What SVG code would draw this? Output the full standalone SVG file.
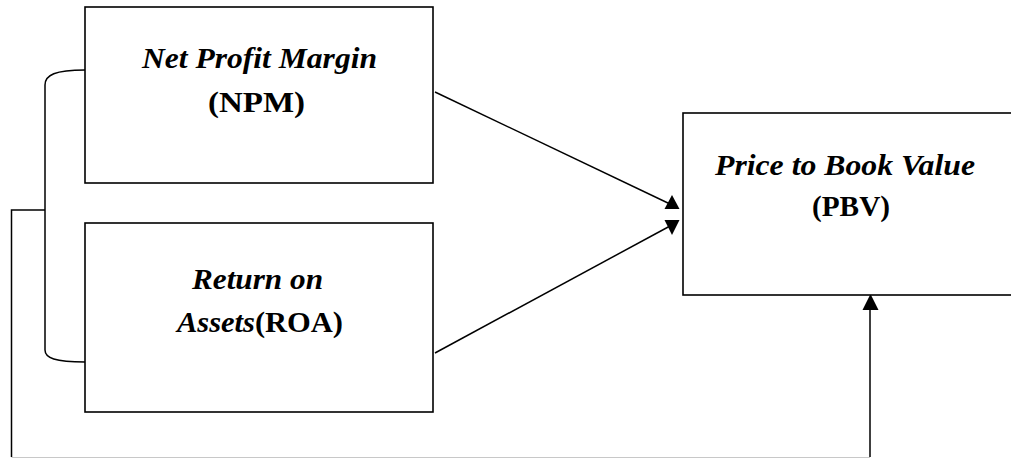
<svg xmlns="http://www.w3.org/2000/svg" width="1011" height="458" viewBox="0 0 1011 458">
<style>
.box{fill:#fff;stroke:#000;stroke-width:1.6}
.ln{fill:none;stroke:#000;stroke-width:1.5}
.ah{fill:#000;stroke:none}
.t{font-family:'Liberation Serif','Times New Roman',Times,serif;font-size:30px;font-weight:700;fill:#000;text-anchor:middle}
.it{font-style:italic}
</style>
<rect width="1011" height="458" fill="#fff"/>
<g id="connectors">
<path class="ln" d="M85,70 C55,70 45,75 45,85 L45,350 C45,358 55,362 85,362"/>
<path class="ln" d="M11.5,457 L11.5,210 L45,210"/>
<path d="M11.5,457.5 L870,457.5" fill="none" stroke="#c8c8c8" stroke-width="1"/>
<path class="ln" d="M870,457 L870,309"/>
<polygon class="ah" points="862.5,310 878.5,310 870.5,294"/>
<path class="ln" d="M435,92 L670,204"/>
<polygon class="ah" points="664.5,209 679.5,209 672,195"/>
<path class="ln" d="M435,353 L670,226"/>
<polygon class="ah" points="664.5,220 679.5,220 672,235"/>
</g>
<g id="npm">
<rect class="box" x="85" y="7" width="348" height="176"/>
<text class="t it" x="259.5" y="68" textLength="235" lengthAdjust="spacingAndGlyphs">Net Profit Margin</text>
<text class="t" x="256.5" y="112" textLength="97" lengthAdjust="spacingAndGlyphs">(NPM)</text>
</g>
<g id="roa">
<rect class="box" x="85" y="223" width="348" height="189"/>
<text class="t it" x="257.5" y="289" textLength="131" lengthAdjust="spacingAndGlyphs">Return on</text>
<text class="t" x="260" y="332" textLength="166" lengthAdjust="spacingAndGlyphs"><tspan class="it">Assets</tspan>(ROA)</text>
</g>
<g id="pbv">
<rect class="box" x="683" y="113" width="340" height="182"/>
<text class="t it" x="845" y="175" textLength="260" lengthAdjust="spacingAndGlyphs">Price to Book Value</text>
<text class="t" x="851" y="216" textLength="78" lengthAdjust="spacingAndGlyphs">(PBV)</text>
</g>
</svg>
